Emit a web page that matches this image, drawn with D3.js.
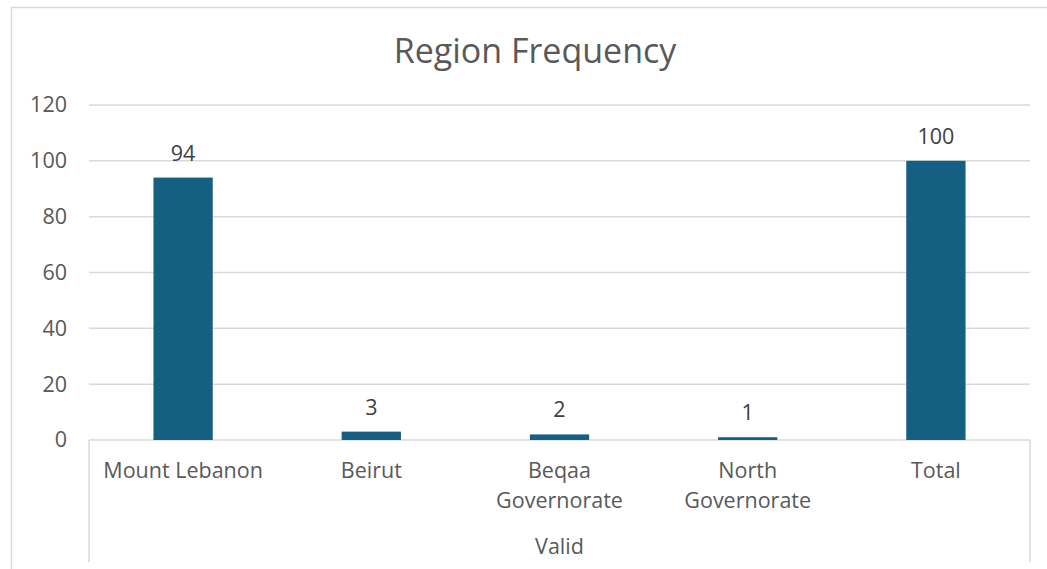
<!DOCTYPE html>
<html>
<head>
<meta charset="utf-8">
<script src="https://cdn.jsdelivr.net/npm/d3@7"></script>
<style>
  body { margin: 0; background: #fff; }
  text { font-family: "Open Sans", "Noto Sans", sans-serif; }
</style>
</head>
<body>
<div id="chart"></div>
<script>
const categories = [["Mount Lebanon"], ["Beirut"], ["Beqaa", "Governorate"], ["North", "Governorate"], ["Total"]];
const counts = [94, 3, 2, 1, 100];
const yTicks = [0, 20, 40, 60, 80, 100, 120];
const groupLabel = "Valid";
const chartTitle = "Region Frequency";

function main() {
    const width = 1047;
    const height = 569;
    const margin = { top: 105, right: 17, bottom: 129, left: 89 };

    const svg = d3.select("#chart").append("svg")
        .attr("width", width)
        .attr("height", height);

    // outer chart frame (runs off the right and bottom edges)
    svg.append("rect")
        .attr("x", 11.5).attr("y", 7.5)
        .attr("width", width).attr("height", height)
        .attr("fill", "none")
        .attr("stroke", "#d9d9d9")
        .attr("stroke-width", 1.5);

    svg.append("text")
        .attr("x", 535).attr("y", 63)
        .attr("text-anchor", "middle")
        .attr("font-size", 34)
        .attr("fill", "#595959")
        .text(chartTitle);

    const x = d3.scaleBand()
        .domain(d3.range(categories.length))
        .range([margin.left, width - margin.right])
        .paddingInner(0.685)
        .paddingOuter(0.3425);

    const y = d3.scaleLinear()
        .domain([0, 120])
        .range([height - margin.bottom, margin.top]);

    const grid = svg.append("g");
    grid.selectAll("line")
        .data(yTicks)
        .enter().append("line")
        .attr("x1", margin.left).attr("x2", width - margin.right)
        .attr("y1", d => y(d)).attr("y2", d => y(d))
        .attr("stroke", "#d9d9d9")
        .attr("stroke-width", 1.5);

    const yAxis = svg.append("g")
        .attr("transform", `translate(${margin.left},0)`)
        .call(d3.axisLeft(y).tickValues(yTicks).tickSize(0).tickPadding(22));
    yAxis.select(".domain").remove();
    yAxis.selectAll("text")
        .attr("font-size", 21.5)
        .attr("fill", "#595959")
        .style("font-family", "\"Open Sans\", sans-serif");

    svg.append("g").selectAll("rect")
        .data(counts)
        .enter().append("rect")
        .attr("x", (d, i) => x(i))
        .attr("y", d => y(d))
        .attr("width", x.bandwidth())
        .attr("height", d => y(0) - y(d))
        .attr("fill", "#156082");

    svg.append("g").selectAll("text")
        .data(counts)
        .enter().append("text")
        .attr("x", (d, i) => x(i) + x.bandwidth() / 2)
        .attr("y", d => y(d) - 17)
        .attr("text-anchor", "middle")
        .attr("font-size", 21.5)
        .attr("fill", "#404040")
        .text(d => d);

    // multi-level category axis box
    const box = svg.append("g").attr("stroke", "#d9d9d9").attr("stroke-width", 1.5);
    box.append("line")
        .attr("x1", margin.left).attr("x2", margin.left)
        .attr("y1", y(0)).attr("y2", 562);
    box.append("line")
        .attr("x1", width - margin.right).attr("x2", width - margin.right)
        .attr("y1", y(0)).attr("y2", 562);

    const catLabels = svg.append("g").selectAll("text")
        .data(categories)
        .enter().append("text")
        .attr("x", (d, i) => x(i) + x.bandwidth() / 2)
        .attr("y", y(0) + 38)
        .attr("text-anchor", "middle")
        .attr("font-size", 21.5)
        .attr("fill", "#595959");
    catLabels.selectAll("tspan")
        .data(d => d)
        .enter().append("tspan")
        .attr("x", function () { return this.parentNode.getAttribute("x"); })
        .attr("dy", (d, i) => i ? 30 : 0)
        .text(d => d);

    svg.append("text")
        .attr("x", (margin.left + width - margin.right) / 2)
        .attr("y", y(0) + 114)
        .attr("text-anchor", "middle")
        .attr("font-size", 21.5)
        .attr("fill", "#595959")
        .text(groupLabel);
}
main();
</script>
</body>
</html>
